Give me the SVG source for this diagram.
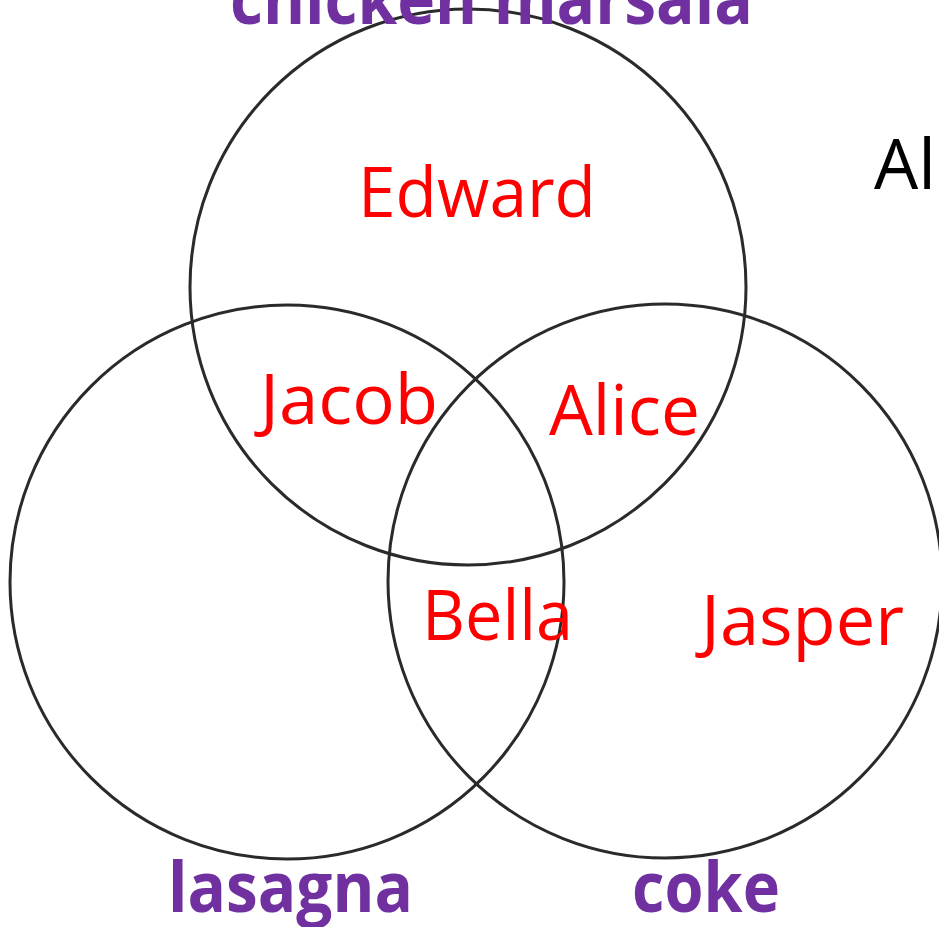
<svg xmlns="http://www.w3.org/2000/svg" width="939" height="927" viewBox="0 0 939 927">
<style>
.c{fill:none;stroke:#2a2a2a;stroke-width:3}
.n{font-family:"Open Sans","Liberation Sans",sans-serif;font-size:70px;fill:#ff0000}
.t{font-family:"Open Sans","Liberation Sans",sans-serif;font-size:70px;font-weight:bold;fill:#7030a0}
.k{font-family:"Open Sans","Liberation Sans",sans-serif;font-size:70px;fill:#000}
</style>
<rect width="939" height="927" fill="#fff"/>
<g id="circles">
<circle id="circle-top" class="c" cx="468" cy="287" r="278"/>
<circle id="circle-left" class="c" cx="287" cy="582" r="277"/>
<circle id="circle-right" class="c" cx="665" cy="581" r="277"/>
</g>
<g id="set-labels">
<text id="label-chicken" class="t" x="230" y="24" textLength="523" lengthAdjust="spacingAndGlyphs">chicken marsala</text>
<text id="label-lasagna" class="t" x="168" y="912" textLength="245" lengthAdjust="spacingAndGlyphs">lasagna</text>
<text id="label-coke" class="t" x="632" y="912" textLength="148" lengthAdjust="spacingAndGlyphs">coke</text>
</g>
<g id="names">
<text id="edward" class="n" x="358" y="217" textLength="238" lengthAdjust="spacingAndGlyphs">Edward</text>
<text id="jacob" class="n" x="260" y="424" textLength="178" lengthAdjust="spacingAndGlyphs">Jacob</text>
<text id="alice" class="n" x="549" y="435" textLength="151" lengthAdjust="spacingAndGlyphs">Alice</text>
<text id="bella" class="n" x="422" y="640" textLength="151" lengthAdjust="spacingAndGlyphs">Bella</text>
<text id="jasper" class="n" x="701" y="645" textLength="203" lengthAdjust="spacingAndGlyphs">Jasper</text>
</g>
<text id="al" class="k" x="874" y="189">Al</text>
</svg>
